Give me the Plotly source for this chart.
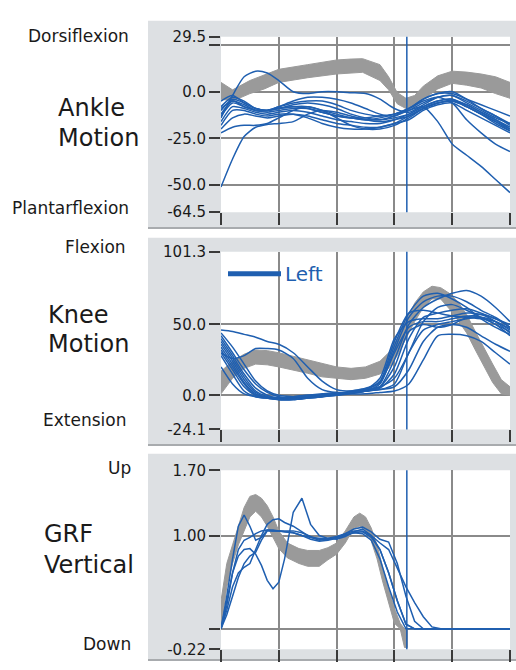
import plotly.graph_objects as go

W, H = 516, 670
BLUE = "#1f5fb0"
BAND = "#9a9a9a"
PANEL = "#dde0e3"
GRID = "#8a8a8a"
FONT = "DejaVu Sans"

# ---------------- data ----------------
X = [0, 4, 8, 12, 16, 20, 25, 30, 35, 40, 45, 50, 55, 60, 65, 70, 75, 80, 85, 90, 95, 100]
TOE_OFF = 64.3

# Ankle normal band
ANKLE_BAND_X = [0, 4, 10, 15, 20, 30, 40, 45, 49, 55, 58, 61, 64, 67, 70, 75, 80, 85, 90, 95, 100]
ANKLE_BAND_HI = [5, 1, 6, 9, 12, 14.5, 17, 17.5, 17.7, 14.5, 8, -0.5, -3.5, -2, 3, 8.5, 11, 10.5, 9.5, 8, 5]
ANKLE_BAND_LO = [-4, -5, -1, 1.5, 5, 7.5, 9.5, 10, 10.4, 6, 1, -6.5, -9, -8, -4, 1.5, 4.5, 3.5, 2, -1, -3.5]

ANKLE_1 = [-51, -36, -24, -19, -17.5, -17, -16, -12, -10, -11, -13, -15, -16, -15, -13, -9, -6, -5, -7, -11, -15, -19]
ANKLE_2 = [-14, -2, 8, 11, 10, 6, 0, -1, 0, 0, -0.5, -1, -4, -9, -11, -7, -3, -2, -6, -10, -14, -17]
ANKLE_3 = [-8, -3, -5, -9, -10, -9, -7, -6, -7, -9, -12, -14, -15, -14, -12, -8, -5, -4, -7, -11, -15, -20]
ANKLE_4 = [-12, -5, -7, -10, -11, -10, -9, -9, -11, -13, -14, -15, -15, -13, -10, -6, -3, -2, -5, -9, -13, -17]
ANKLE_5 = [-16, -8, -9, -11, -12, -11, -10, -11, -13, -15, -16, -17, -17, -15, -12, -8, -5, -4, -8, -12, -16, -21]
ANKLE_6 = [-22, -19, -18, -18, -17, -14, -10, -8, -10, -14, -18, -20, -20, -18, -14, -9, -6, -5, -8, -12, -16, -20]
ANKLE_7 = [-10, -4, -6, -9, -10, -9, -8, -9, -11, -13, -14, -14, -13, -12, -10, -8, -16, -28, -34, -40, -47, -54]
ANKLE_8 = [-13, -6, -8, -10, -10, -9, -8, -8, -10, -12, -14, -15, -14, -12, -9, -5, -3, -6, -15, -22, -28, -32]
ANKLE_9 = [-9, -5, -8, -10, -10, -8, -6, -5, -5, -7, -10, -12, -13, -12, -9, -4, -1, -1, -4, -7, -10, -13]
ANKLE_10 = [-5, -2, -6, -9, -10, -8, -5, -3, -3, -4, -6, -9, -12, -13, -9, -4, -1, 0, -4, -9, -13, -18]
ANKLE_11 = [-18, -10, -10, -12, -13, -12, -12, -14, -17, -19, -20, -20, -19, -17, -13, -9, -6, -5, -8, -12, -17, -21]
ANKLE_12 = [-20, -14, -12, -13, -14, -13, -12, -13, -15, -17, -18, -19, -19, -17, -15, -10, -7, -6, -10, -14, -18, -22]

# Knee normal band
KNEE_BAND_X = [0, 4, 8, 12, 16, 20, 25, 30, 35, 40, 45, 50, 55, 58, 61, 64, 67, 70, 73, 76, 79, 82, 85, 88, 91, 94, 97, 100]
KNEE_BAND_HI = [17, 24, 29, 32, 31.5, 30, 27.5, 25, 22, 20, 19, 20, 24, 30, 40, 53, 65, 73, 77, 76, 72, 66, 57, 45, 33, 22, 11, 6]
KNEE_BAND_LO = [1, 12, 19, 22, 21.5, 20, 18, 15.5, 13, 12, 11, 12, 15, 19, 28, 40, 52, 62, 68, 68, 61, 53, 44, 32, 20, 9, 1, 0]

KNEE_1 = [46, 45, 43, 41, 38, 36, 30, 20, 10, 4, 3, 4, 6, 12, 30, 52, 62, 64, 60, 55, 50, 45]
KNEE_2 = [40, 28, 15, 5, 0, -2, -2, -1, 0, 1, 2, 3, 6, 25, 50, 62, 68, 72, 74, 70, 62, 52]
KNEE_3 = [38, 26, 13, 3, -1, -3, -3, -2, -1, 0, 1, 3, 8, 32, 55, 66, 70, 70, 66, 60, 55, 48]
KNEE_4 = [36, 24, 11, 2, -2, -3, -3, -2, -1, 0, 2, 4, 10, 38, 58, 60, 58, 56, 55, 54, 52, 47]
KNEE_5 = [34, 22, 9, 1, -2, -3, -3, -2, -1, 1, 2, 4, 12, 40, 52, 54, 54, 56, 58, 57, 52, 44]
KNEE_6 = [32, 20, 8, 0, -2, -3, -2, -1, 0, 1, 3, 5, 9, 30, 48, 52, 52, 54, 56, 55, 50, 42]
KNEE_7 = [30, 18, 6, 0, -1, -2, -2, -1, 0, 1, 2, 3, 6, 20, 45, 50, 48, 50, 55, 57, 54, 48]
KNEE_8 = [30, 26, 28, 33, 33, 32, 26, 12, 4, 2, 2, 3, 4, 8, 30, 46, 50, 52, 54, 55, 52, 46]
KNEE_9 = [42, 30, 18, 8, 2, -1, -2, -1, 0, 1, 2, 3, 5, 15, 40, 55, 58, 60, 61, 58, 54, 50]
KNEE_10 = [28, 15, 3, -1, -2, -2, -1, 0, 0, 1, 1, 1, 2, 3, 8, 25, 42, 43, 42, 38, 30, 22]
KNEE_11 = [20, 8, 1, -1, -2, -2, -1, 0, 1, 2, 2, 3, 4, 6, 18, 38, 48, 50, 48, 42, 36, 31]
KNEE_12 = [44, 34, 22, 10, 3, 0, -1, -1, 0, 1, 2, 4, 9, 35, 58, 70, 72, 68, 62, 54, 48, 43]

# Vertical ground reaction force
X_GRF = [0, 2, 4, 6, 8, 10, 12, 14, 16, 18, 20, 22, 25, 28, 31, 34, 37, 40, 43, 46, 49, 52, 55, 58, 61, 64, 67, 70, 73, 76, 80, 90, 100]
GRF_BAND_X = [0, 2, 4, 6, 8, 10, 12, 14, 16, 18, 20, 23, 27, 30, 34, 37, 40, 43, 46, 48, 50, 52, 54, 56, 58, 60, 62, 63.5, 64.5]
GRF_BAND_HI = [0.3, 0.7, 0.9, 1.1, 1.3, 1.42, 1.44, 1.4, 1.32, 1.2, 1.05, 0.92, 0.86, 0.84, 0.84, 0.87, 0.92, 1.05, 1.2, 1.24, 1.2, 1.08, 0.9, 0.65, 0.42, 0.22, 0.06, 0.0, 0.0]
GRF_BAND_LO = [0.0, 0.45, 0.7, 0.9, 1.05, 1.2, 1.26, 1.2, 1.1, 0.98, 0.86, 0.76, 0.7, 0.67, 0.67, 0.74, 0.8, 0.92, 1.08, 1.1, 1.06, 0.94, 0.75, 0.5, 0.28, 0.06, 0.0, -0.2, -0.2]

GRF_1 = [0, 0.35, 0.75, 1.1, 1.22, 1.1, 0.95, 0.98, 1.06, 1.06, 1.05, 1.05, 1.05, 1.03, 0.99, 0.96, 0.96, 0.98, 1.01, 1.03, 1.02, 0.95, 0.75, 0.45, 0.18, 0, 0, 0, 0, 0, 0, 0, 0]
GRF_2 = [0, 0.25, 0.6, 0.78, 0.85, 0.86, 0.8, 0.68, 0.52, 0.43, 0.5, 0.75, 1.25, 1.4, 1.12, 1.0, 0.97, 0.96, 0.99, 1.04, 1.07, 1.0, 0.85, 0.6, 0.3, 0.05, 0, 0, 0, 0, 0, 0, 0]
GRF_3 = [0, 0.2, 0.45, 0.6, 0.66, 0.7, 0.85, 1.0, 1.12, 1.17, 1.18, 1.14, 1.1, 1.04, 0.98, 0.95, 0.96, 0.98, 1.02, 1.07, 1.09, 1.04, 0.96, 0.93, 0.7, 0.35, 0.08, 0, 0, 0, 0, 0, 0]
GRF_4 = [0, 0.15, 0.35, 0.55, 0.7, 0.78, 0.82, 0.95, 1.05, 1.05, 1.05, 1.04, 1.03, 1.0, 0.98, 0.97, 0.97, 0.99, 1.02, 1.05, 1.05, 1.0, 0.92, 0.85, 0.65, 0.45, 0.28, 0.13, 0.02, 0, 0, 0, 0]
GRF_5 = [0, 0.3, 0.6, 0.85, 0.95, 0.98, 1.02, 1.05, 1.06, 1.05, 1.05, 1.04, 1.03, 1.0, 0.96, 0.94, 0.95, 0.97, 1.0, 1.03, 1.04, 0.98, 0.85, 0.6, 0.3, 0.05, 0, 0, 0, 0, 0, 0, 0]

X_TICKS = [0, 20, 40, 60, 80, 100]
ANKLE_TICKS = [-64.5, -50, -25, 0, 25, 29.5]
ANKLE_TICKTEXT = ["-64.5", "-50.0", "-25.0", "0.0", "", "29.5"]
ANKLE_GRID = [-50, -25, 0, 25, 29.5]
KNEE_TICKS = [-24.1, 0, 50, 101.3]
KNEE_TICKTEXT = ["-24.1", "0.0", "50.0", "101.3"]
KNEE_GRID = [0, 50, 101.3]
GRF_TICKS = [-0.22, 0, 1.0, 1.7]
GRF_TICKTEXT = ["-0.22", "", "1.00", "1.70"]
GRF_GRID = [0, 1.0, 1.7]

# ---------------- layout helpers ----------------
def fx(p):
    return p / W

def fy(p):
    return 1 - p / H

PLOT_L, PLOT_R = 221, 510
panels = [
    # (plot top px, plot bottom px, panel top px, panel bottom px)
    (28.4, 208.8, 12, 226),
    (249.5, 432.0, 235, 449),
    (474.0, 658.0, 457, 670),
]

fig = go.Figure()

def band(xs, hi, lo, xa, ya):
    fig.add_trace(go.Scatter(
        x=list(xs) + list(xs)[::-1], y=list(hi) + list(lo)[::-1],
        fill="toself", fillcolor=BAND, mode="lines",
        line=dict(color=BAND, width=1), xaxis=xa, yaxis=ya,
        hoverinfo="skip", showlegend=False))

def curves(xs, series, xa, ya, shape):
    for s in series:
        fig.add_trace(go.Scatter(
            x=xs, y=s, mode="lines",
            line=dict(color=BLUE, width=1.5, shape=shape, smoothing=0.7),
            xaxis=xa, yaxis=ya, showlegend=False, hoverinfo="skip"))

band(ANKLE_BAND_X, ANKLE_BAND_HI, ANKLE_BAND_LO, "x", "y")
curves(X, [ANKLE_1, ANKLE_2, ANKLE_3, ANKLE_4, ANKLE_5, ANKLE_6, ANKLE_7,
           ANKLE_8, ANKLE_9, ANKLE_10, ANKLE_11, ANKLE_12], "x", "y", "spline")

band(KNEE_BAND_X, KNEE_BAND_HI, KNEE_BAND_LO, "x2", "y2")
curves(X, [KNEE_1, KNEE_2, KNEE_3, KNEE_4, KNEE_5, KNEE_6, KNEE_7,
           KNEE_8, KNEE_9, KNEE_10, KNEE_11, KNEE_12], "x2", "y2", "spline")

band(GRF_BAND_X, GRF_BAND_HI, GRF_BAND_LO, "x3", "y3")
curves(X_GRF, [GRF_1, GRF_2, GRF_3, GRF_4, GRF_5], "x3", "y3", "linear")

shapes = []
for i, (pt, pb, gt, gb) in enumerate(panels):
    sx = "x" if i == 0 else f"x{i+1}"
    sy = "y" if i == 0 else f"y{i+1}"
    # grey panel
    shapes.append(dict(type="rect", xref="paper", yref="paper",
                       x0=fx(148), x1=1.0, y0=fy(gb), y1=fy(gt),
                       fillcolor=PANEL, line=dict(width=0), layer="below"))
    shapes.append(dict(type="line", xref="paper", yref="paper",
                       x0=fx(148), x1=1.0, y0=fy(gb - 1), y1=fy(gb - 1),
                       line=dict(color="#a8abae", width=2), layer="below"))
    # white plotting area
    shapes.append(dict(type="rect", xref=f"{sx} domain", yref=f"{sy} domain",
                       x0=0, x1=1, y0=0, y1=1, fillcolor="white",
                       line=dict(width=0), layer="below"))
    # toe-off marker
    shapes.append(dict(type="line", xref=sx, yref=f"{sy} domain",
                       x0=TOE_OFF, x1=TOE_OFF, y0=0, y1=1,
                       line=dict(color=BLUE, width=1.5), layer="above"))

# legend sample in knee panel
shapes.append(dict(type="line", xref="paper", yref="paper",
                   x0=fx(228), x1=fx(281), y0=fy(272), y1=fy(272),
                   line=dict(color=BLUE, width=5)))

annotations = []
def label(text, x, y, size, anchor="right"):
    annotations.append(dict(text=text, x=fx(x), y=fy(y), xref="paper", yref="paper",
                            xanchor=anchor, yanchor="middle", showarrow=False,
                            font=dict(family=FONT, size=size, color="#1a1a1a")))

label("Dorsiflexion", 131, 28, 17)
label("Plantarflexion", 131, 205, 17)
label("Flexion", 128, 245, 17)
label("Extension", 128, 422, 17)
label("Up", 133, 472, 17)
label("Down", 133, 653, 17)
label("Ankle", 56, 102, 24, "left")
label("Motion", 56, 133, 24, "left")
label("Knee", 46, 314, 24, "left")
label("Motion", 46, 344, 24, "left")
label("GRF", 42, 539, 24, "left")
label("Vertical", 42, 571, 24, "left")
annotations.append(dict(text="Left", x=fx(283), y=fy(272), xref="paper", yref="paper",
                        xanchor="left", yanchor="middle", showarrow=False,
                        font=dict(family=FONT, size=20, color=BLUE)))

def xaxis_cfg(anchor):
    return dict(domain=[fx(PLOT_L), fx(PLOT_R)], range=[0, 100], anchor=anchor,
                tickvals=X_TICKS, showticklabels=False, ticks="outside",
                ticklen=12, tickwidth=2, tickcolor="#3a3a3a",
                showgrid=True, gridcolor=GRID, gridwidth=1.5,
                zeroline=False, showline=False, fixedrange=True)

def yaxis_cfg(anchor, pt, pb, rng, tv, tt, grid):
    return dict(domain=[fy(pb), fy(pt)], range=rng, anchor=anchor,
                tickmode="array", tickvals=tv, ticktext=tt,
                ticks="outside", ticklen=11, tickwidth=2, tickcolor="#3a3a3a",
                tickfont=dict(family=FONT, size=15, color="#1a1a1a"),
                showgrid=False, zeroline=False, showline=False,
                minor=dict(tickmode="array", tickvals=grid, showgrid=True,
                           gridcolor=GRID, gridwidth=1.5, ticks=""),
                fixedrange=True)

fig.update_layout(
    width=W, height=H, margin=dict(l=0, r=0, t=0, b=0),
    paper_bgcolor="white", plot_bgcolor="white",
    showlegend=False, font=dict(family=FONT),
    xaxis=xaxis_cfg("y"), xaxis2=xaxis_cfg("y2"), xaxis3=xaxis_cfg("y3"),
    yaxis=yaxis_cfg("x", panels[0][0], panels[0][1], [-64.5, 29.5], ANKLE_TICKS, ANKLE_TICKTEXT, ANKLE_GRID),
    yaxis2=yaxis_cfg("x2", panels[1][0], panels[1][1], [-24.1, 101.3], KNEE_TICKS, KNEE_TICKTEXT, KNEE_GRID),
    yaxis3=yaxis_cfg("x3", panels[2][0], panels[2][1], [-0.22, 1.70], GRF_TICKS, GRF_TICKTEXT, GRF_GRID),
    shapes=shapes, annotations=annotations,
)

fig.write_html(
    "out.html",
    config={"displayModeBar": False},
    post_script="document.body.style.margin='0';document.body.style.overflow='hidden';",
)
